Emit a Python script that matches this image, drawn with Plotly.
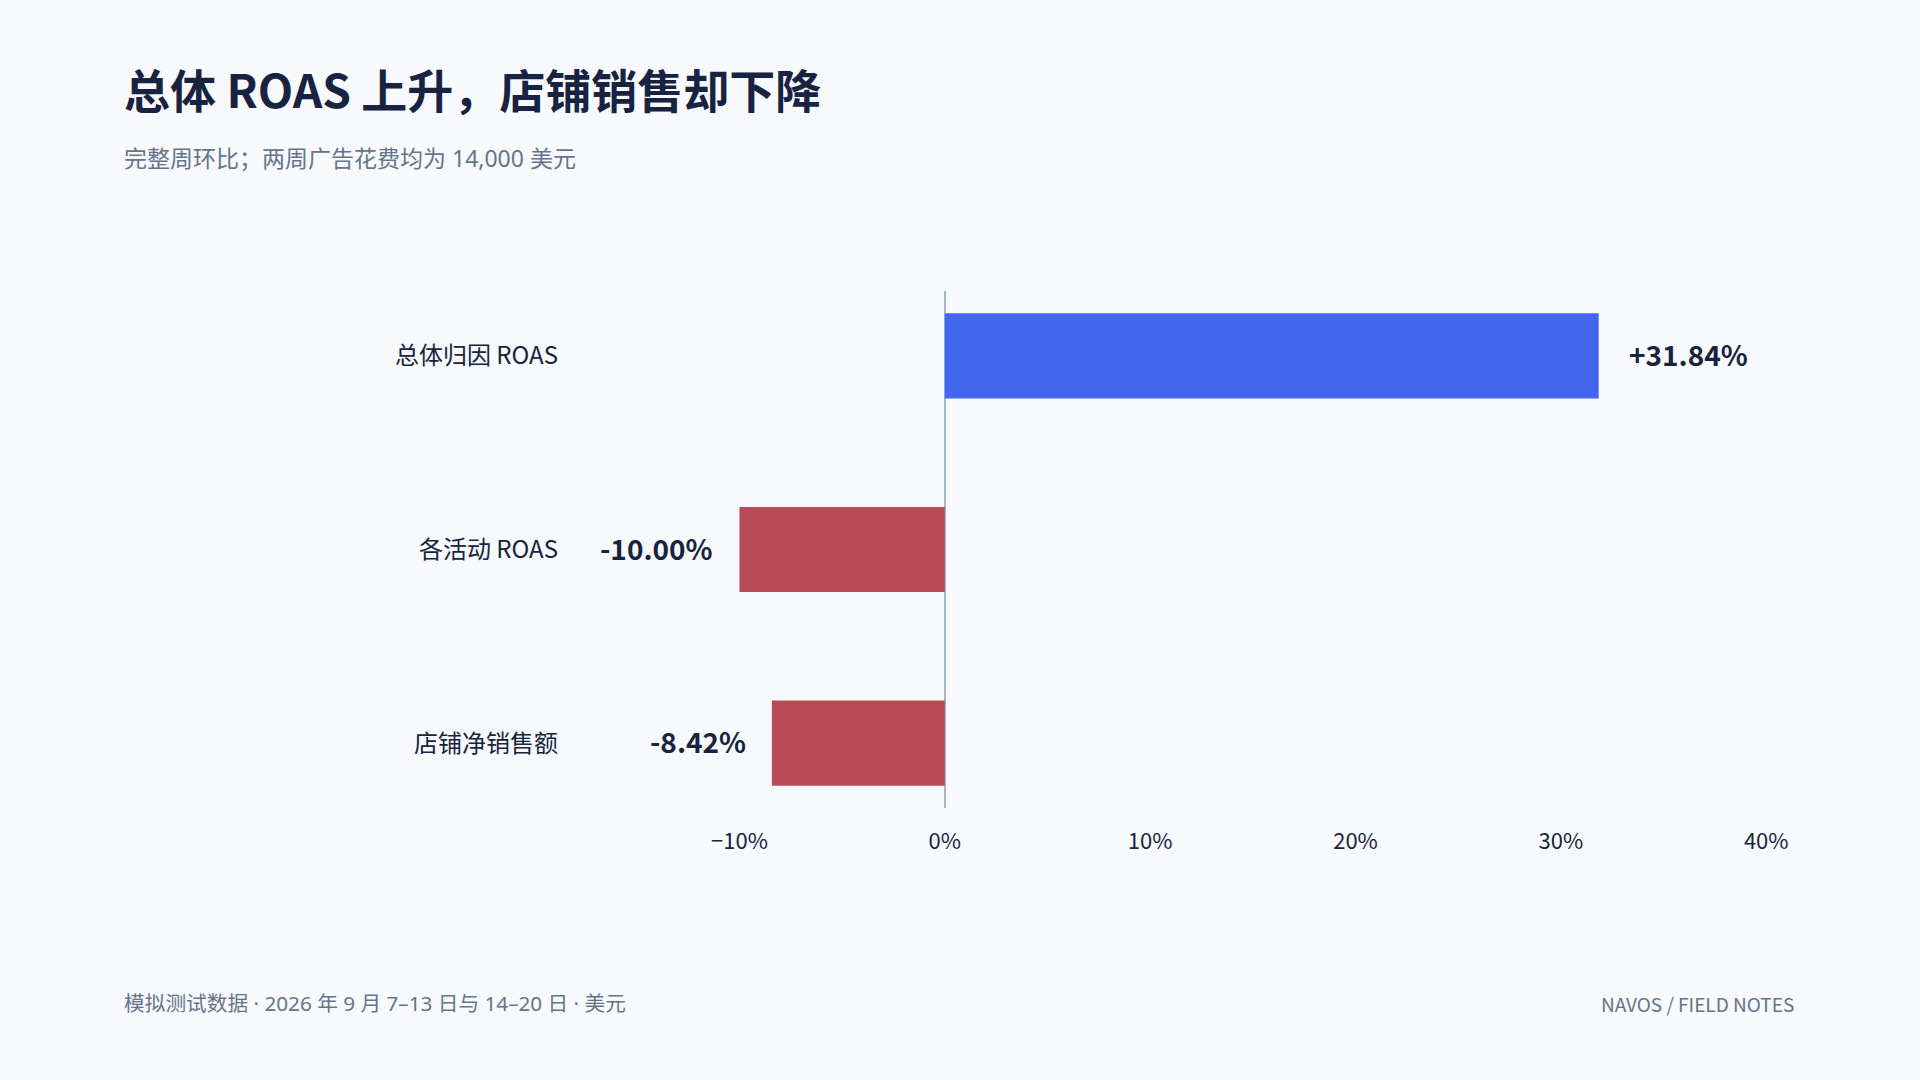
import plotly.graph_objects as go

# ---- data ----
categories = ["总体归因 ROAS", "各活动 ROAS", "店铺净销售额"]
changes_pct = [31.84, -10.00, -8.42]
tick_values = [-10, 0, 10, 20, 30, 40]

title_text = "总体 ROAS 上升，店铺销售却下降"
subtitle_text = "完整周环比；两周广告花费均为 14,000 美元"
footer_left = "模拟测试数据 · 2026 年 9 月 7–13 日与 14–20 日 · 美元"
footer_right = "NAVOS / FIELD NOTES"

# ---- styles ----
BG = "#F7F9FC"
BLUE = "#4466EE"
RED = "#B84A55"
INK = "#172340"
MUTED = "#64748B"
ZERO = "#A3B5D1"
FONT = "Noto Sans CJK SC, Noto Sans, sans-serif"
FONT_LATIN_FIRST = "Noto Sans, Noto Sans CJK SC, sans-serif"

W, H = 1920, 1080
PL, PR, PT, PB = 569, 1795, 291, 808  # plot area in pixels
PW, PH = PR - PL, PB - PT


def px_x(px):
    return (px - PL) / PW


def px_y(py):
    return (PB - py) / PH


bar_colors = [BLUE if v >= 0 else RED for v in changes_pct]
tick_text = [(f"{v}%" if v >= 0 else f"\u2212{abs(v)}%") for v in tick_values]

fig = go.Figure(
    go.Bar(
        x=changes_pct,
        y=categories,
        orientation="h",
        marker=dict(color=bar_colors, line=dict(width=0)),
        width=0.44,
        hoverinfo="skip",
    )
)

# value labels
for c, v in zip(categories, changes_pct):
    fig.add_annotation(
        x=v, y=c, xref="x", yref="y",
        text=f"<b>{v:+.2f}%</b>",
        showarrow=False,
        xanchor="left" if v >= 0 else "right",
        xshift=28 if v >= 0 else -24,
        yshift=2,
        yanchor="middle",
        font=dict(family=FONT, size=28, color=INK),
    )

# title, subtitle, footer
fig.add_annotation(
    text=f"<b>{title_text}</b>", xref="paper", yref="paper",
    x=px_x(122), y=px_y(88),
    xanchor="left", yanchor="middle", showarrow=False,
    font=dict(family=FONT, size=46, color=INK),
)
fig.add_annotation(
    text=subtitle_text, xref="paper", yref="paper",
    x=px_x(122), y=px_y(158),
    xanchor="left", yanchor="middle", showarrow=False,
    font=dict(family=FONT_LATIN_FIRST, size=23, color=MUTED),
)
fig.add_annotation(
    text=footer_left, xref="paper", yref="paper",
    x=px_x(122), y=px_y(1003),
    xanchor="left", yanchor="middle", showarrow=False,
    font=dict(family=FONT_LATIN_FIRST, size=20.7, color=MUTED),
)
fig.add_annotation(
    text=footer_right, xref="paper", yref="paper",
    x=px_x(1796), y=px_y(1003),
    xanchor="right", yanchor="middle", showarrow=False,
    font=dict(family=FONT, size=19, color=MUTED),
)

fig.update_layout(
    width=W, height=H,
    margin=dict(l=PL, r=W - PR, t=PT, b=H - PB, pad=0),
    paper_bgcolor=BG, plot_bgcolor=BG,
    showlegend=False,
    font=dict(family=FONT, color=INK),
    xaxis=dict(
        range=[-18.3, 41.4],
        tickmode="array",
        tickvals=tick_values,
        ticktext=tick_text,
        showgrid=False,
        zeroline=True, zerolinecolor=ZERO, zerolinewidth=1.5,
        showline=False, ticks="",
        tickfont=dict(family=FONT, size=22, color=INK),
        ticklabelstandoff=18,
        fixedrange=True,
    ),
    yaxis=dict(
        categoryorder="array", categoryarray=categories,
        range=[2.335, -0.335],
        showgrid=False, zeroline=False, showline=False, ticks="",
        tickfont=dict(family=FONT, size=24, color=INK),
        ticklabelstandoff=10,
        fixedrange=True,
    ),
)

fig.write_html(
    "out.html",
    config={"displayModeBar": False},
    post_script="document.body.style.margin='0';document.body.style.overflow='hidden';",
)
